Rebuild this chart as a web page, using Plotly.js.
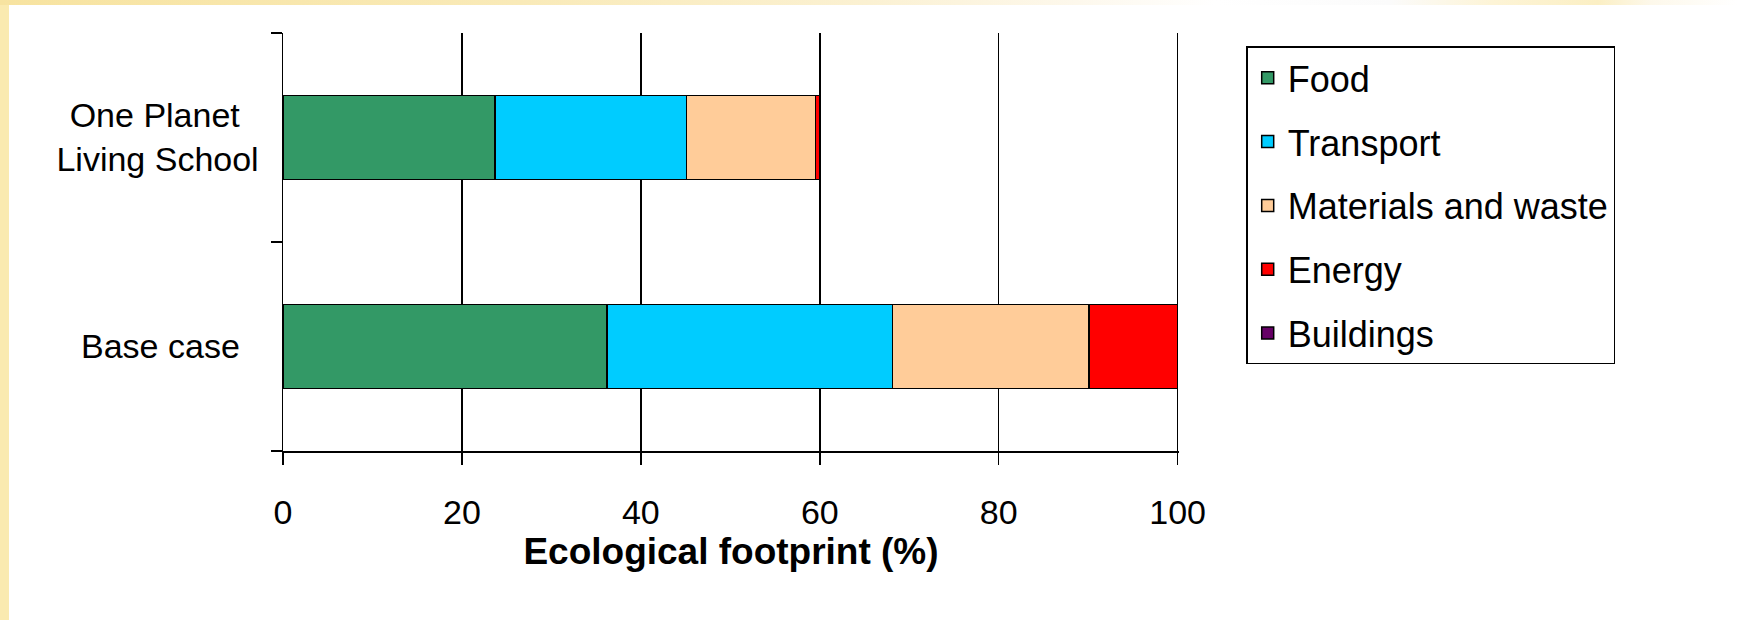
<!DOCTYPE html>
<html>
<head>
<meta charset="utf-8">
<script src="https://cdn.plot.ly/plotly-3.0.1.min.js"></script>
<style>
  html, body { margin: 0; padding: 0; background: #ffffff; width: 1737px; height: 620px; overflow: hidden; }
  #leftband { position: absolute; left: 0; top: 0; width: 9px; height: 620px; background: #faeab0; }
  #topband { position: absolute; left: 0; top: 0; width: 1737px; height: 5px;
    background: linear-gradient(to right, #f7e3a0 0%, #f9eab8 30%, #fbf1d2 50%, #fdf8ec 62%, #ffffff 70%, #fbfbfb 80%, #fdf4d6 86%, #fbefc4 92%, #fdf8ea 95%, #ffffff 100%); }
  #chart { position: absolute; left: 0; top: 0; width: 1737px; height: 620px; }
</style>
</head>
<body>
<div id="leftband"></div>
<div id="topband"></div>
<div id="chart"></div>
<script>
// Data
var categories = ["Base case&nbsp;&nbsp;", "One Planet&nbsp;&nbsp;<br>Living School"];
var seriesNames = ["Food", "Transport", "Materials and waste", "Energy", "Buildings"];
var food      = [36.2, 23.7];
var transport = [31.9, 21.4];
var materials = [22.0, 14.4];
var energy    = [9.9, 0.5];
var buildings = [0, 0];
var xTicks = [0, 20, 40, 60, 80, 100];

var seriesValues = [food, transport, materials, energy, buildings];
var seriesColors = ["#339966", "#00ccff", "#ffcc99", "#ff0000", "#660066"];

var FONT = "Liberation Sans, Arial, sans-serif";

var traces = seriesNames.map(function (name, i) {
  return {
    type: "bar",
    orientation: "h",
    name: name,
    legendgroup: "g" + i,
    x: seriesValues[i],
    y: categories,
    marker: { color: seriesColors[i], line: { color: "#000000", width: 1.5 } },
    hoverinfo: "x+name"
  };
});

var layout = {
  width: 1737,
  height: 620,
  margin: { l: 283, r: 558, t: 33, b: 169, pad: 0 },
  paper_bgcolor: "rgba(0,0,0,0)",
  plot_bgcolor: "rgba(0,0,0,0)",
  barmode: "stack",
  bargap: 0.6,
  font: { family: FONT, color: "#000000", size: 34 },
  xaxis: {
    range: [0, 100.15],
    tickvals: xTicks,
    ticktext: xTicks.map(String),
    showgrid: true,
    gridcolor: "#000000",
    gridwidth: 1.5,
    zeroline: false,
    showline: true,
    linecolor: "#000000",
    linewidth: 1.5,
    ticks: "outside",
    ticklen: 12,
    tickwidth: 1.5,
    tickcolor: "#000000",
    ticklabelstandoff: 19,
    tickfont: { family: FONT, size: 34, color: "#000000" },
    title: { text: "<b>Ecological footprint (%)</b>", font: { family: FONT, size: 37, color: "#000000" }, standoff: 0 },
    fixedrange: true
  },
  yaxis: {
    type: "category",
    categoryorder: "array",
    categoryarray: categories,
    range: [-0.5, 1.5],
    showgrid: false,
    zeroline: false,
    showline: true,
    linecolor: "#000000",
    linewidth: 1.5,
    ticks: "outside",
    tickson: "boundaries",
    ticklen: 11,
    tickwidth: 1.5,
    tickcolor: "#000000",
    ticklabelstandoff: 16,
    tickfont: { family: FONT, size: 34, color: "#000000" },
    fixedrange: true
  },
  showlegend: true,
  legend: {
    x: 1.075,
    y: 0.968,
    xanchor: "left",
    yanchor: "top",
    traceorder: "grouped",
    tracegroupgap: 14,
    bgcolor: "#ffffff",
    bordercolor: "#000000",
    borderwidth: 1.5,
    font: { family: FONT, size: 36, color: "#000000" },
    valign: "middle"
  }
};

Plotly.newPlot("chart", traces, layout, { staticPlot: true, displayModeBar: false });
</script>
</body>
</html>
